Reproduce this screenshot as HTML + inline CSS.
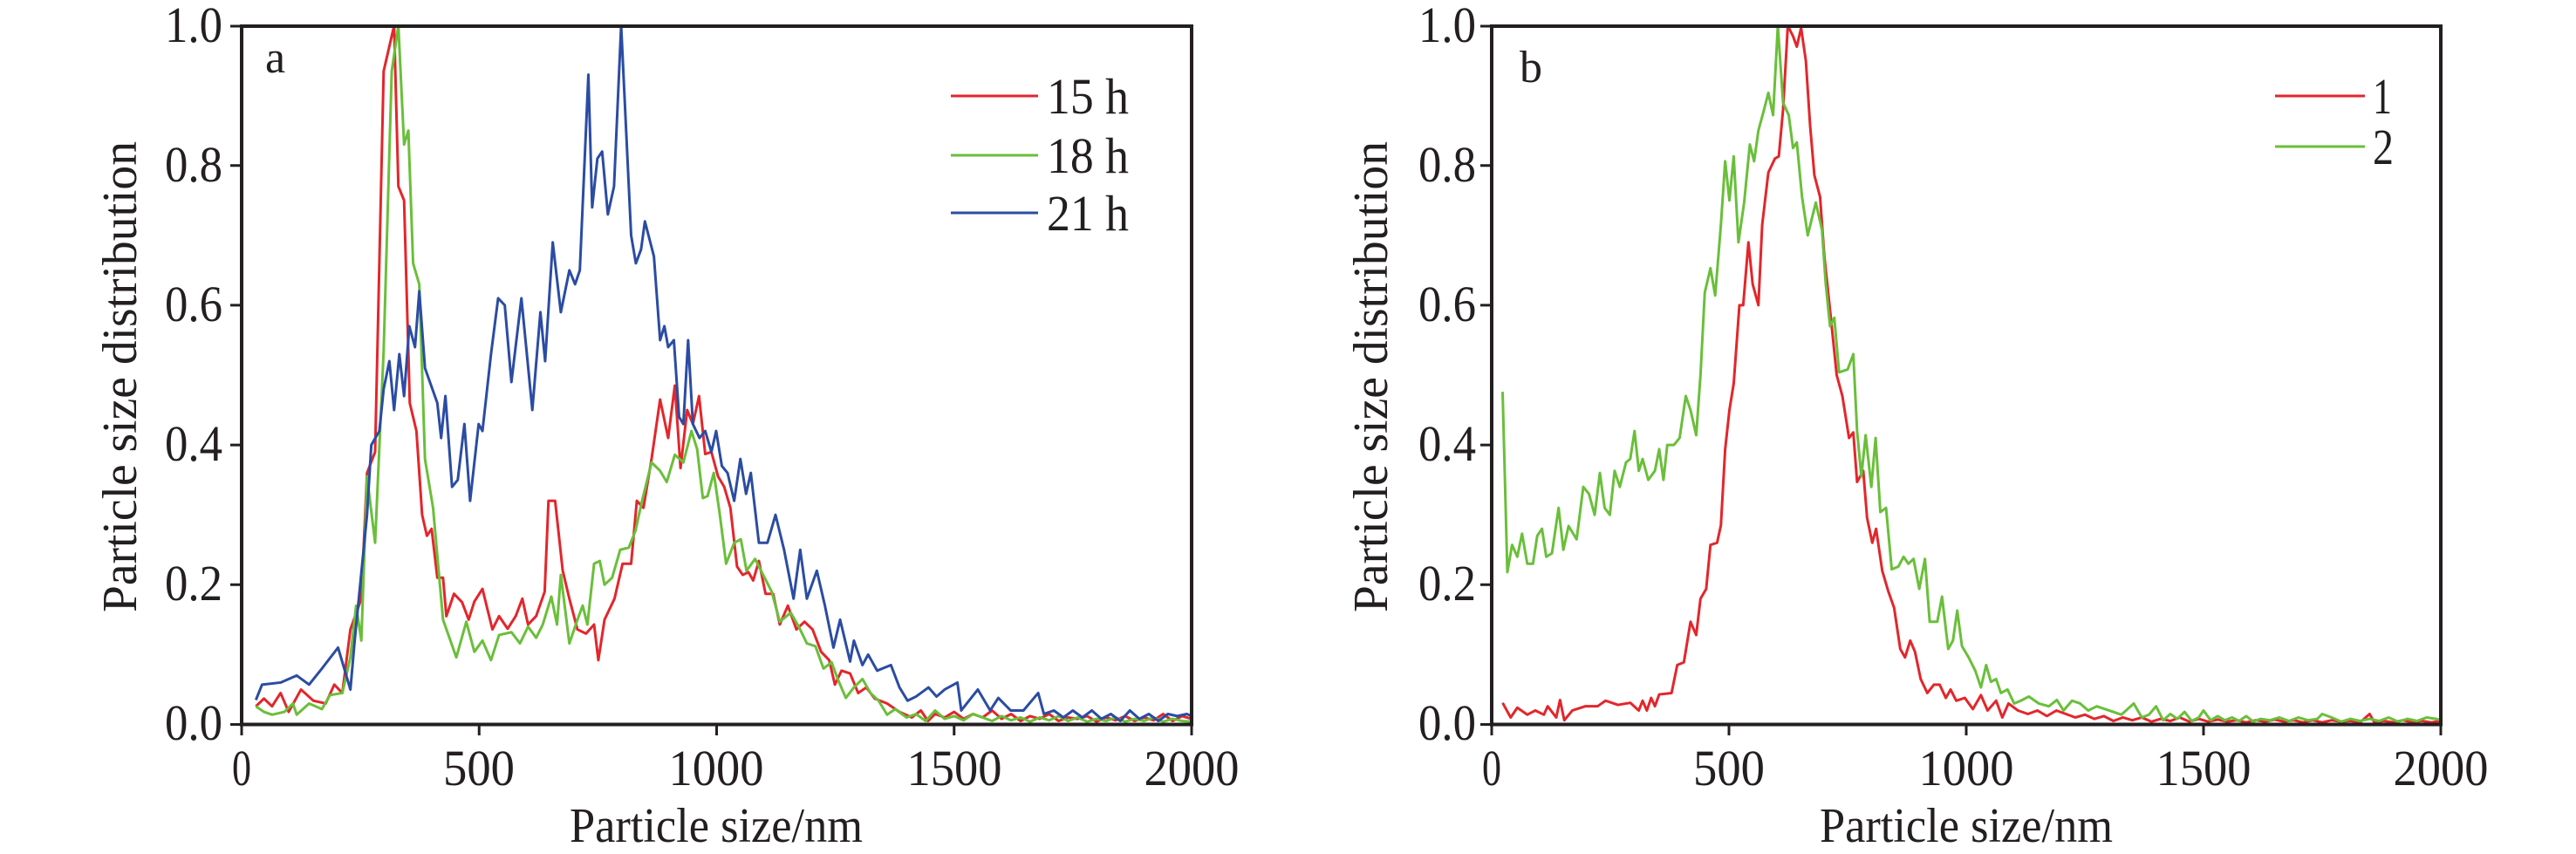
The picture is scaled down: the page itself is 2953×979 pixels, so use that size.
<!DOCTYPE html>
<html><head><meta charset="utf-8"><style>html,body{margin:0;padding:0;background:#fff}svg{display:block}text{font-family:"Liberation Serif",serif;fill:#231f20}</style></head>
<body>
<svg width="2953" height="979" viewBox="0 0 2953 979" xmlns="http://www.w3.org/2000/svg">
<!-- Panel a -->
<g transform="translate(277,830.5) scale(0.5445,-801)" fill="none" stroke-width="3" stroke-linejoin="round">
<polyline vector-effect="non-scaling-stroke" stroke="#e3262b" points="30,.026 47,.037 64,.026 82,.045 99,.018 125,.05 151,.034 177,.03 195,.057 212,.045 229,.136 252,.18 264,.36 281,.39 299,.935 321,1 330,.77 342,.75 354,.46 368,.42 380,.3 390,.27 400,.28 412,.21 424,.21 431,.155 447,.187 464,.175 478,.15 490,.176 507,.194 528,.136 542,.155 560,.137 577,.155 591,.18 603,.143 620,.155 638,.19 646,.32 660,.32 676,.22 690,.18 707,.136 725,.13 742,.143 751,.092 764,.15 785,.18 802,.23 820,.23 832,.32 846,.31 863,.38 881,.465 898,.41 912,.485 924,.367 938,.45 950,.43 963,.47 976,.387 989,.39 1003,.355 1016,.34 1029,.31 1043,.226 1055,.214 1067,.218 1077,.206 1089,.234 1103,.187 1119,.187 1133,.143 1150,.17 1168,.136 1185,.147 1202,.136 1220,.104 1237,.092 1249,.057 1263,.077 1281,.073 1298,.045 1315,.053 1333,.037 1359,.03 1385,.018 1411,.01 1430,.02 1445,.005 1460,.015 1480,.01 1500,.018 1520,.008 1540,.015 1560,.01 1580,.02 1600,.008 1620,.015 1640,.005 1660,.012 1680,.008 1700,.015 1720,.005 1740,.01 1760,.008 1780,.012 1800,.004 1820,.01 1840,.006 1860,.012 1880,.005 1900,.01 1920,.006 1940,.015 1960,.005 1980,.012 2000,.008"/>
<polyline vector-effect="non-scaling-stroke" stroke="#6abf3a" points="30,.026 47,.018 64,.014 90,.018 108,.03 116,.014 142,.03 169,.022 186,.042 212,.045 229,.096 241,.17 252,.12 264,.355 281,.26 299,.535 316,.935 330,1 342,.83 351,.85 361,.66 374,.63 386,.38 403,.31 424,.15 452,.096 473,.147 490,.104 507,.12 525,.092 542,.128 568,.132 586,.116 603,.14 620,.124 634,.143 652,.183 664,.143 672,.214 690,.116 707,.15 718,.17 728,.143 742,.23 754,.234 764,.2 780,.21 797,.25 815,.253 829,.277 843,.32 863,.375 881,.363 895,.347 912,.386 930,.375 947,.42 959,.394 971,.324 981,.327 994,.36 1006,.304 1020,.23 1037,.26 1051,.265 1063,.22 1081,.237 1098,.214 1116,.19 1133,.147 1156,.16 1173,.14 1190,.116 1208,.112 1225,.08 1242,.089 1255,.065 1272,.038 1289,.053 1307,.065 1324,.045 1341,.034 1359,.014 1376,.022 1400,.01 1420,.015 1440,.005 1460,.02 1480,.008 1500,.012 1520,.006 1540,.015 1560,.01 1580,.005 1600,.012 1620,.006 1640,.01 1660,.004 1680,.01 1700,.006 1720,.012 1740,.005 1760,.01 1780,.004 1800,.008 1820,.005 1840,.01 1860,.004 1880,.008 1900,.005 1920,.01 1940,.004 1960,.008 1980,.005 2000,.004"/>
<polyline vector-effect="non-scaling-stroke" stroke="#2b4ca3" points="30,.035 43,.057 82,.06 116,.07 142,.057 169,.08 203,.11 229,.05 238,.12 264,.3 273,.4 290,.42 299,.48 311,.52 321,.45 332,.53 342,.47 353,.57 365,.54 374,.62 386,.51 412,.46 420,.41 429,.47 443,.34 455,.35 469,.43 481,.32 499,.43 507,.42 525,.53 540,.61 554,.6 568,.49 589,.61 612,.45 629,.59 639,.52 655,.69 672,.59 690,.65 702,.63 712,.65 730,.93 738,.74 749,.81 759,.82 771,.73 784,.77 799,1 820,.7 830,.66 841,.68 849,.72 868,.67 881,.55 890,.57 898,.54 910,.55 921,.44 930,.43 940,.55 950,.43 964,.41 976,.42 989,.39 999,.42 1011,.37 1023,.36 1037,.32 1050,.38 1062,.33 1072,.36 1089,.26 1107,.26 1124,.3 1142,.25 1162,.18 1176,.25 1190,.18 1211,.22 1228,.17 1246,.11 1260,.15 1281,.09 1289,.12 1307,.085 1319,.1 1338,.077 1367,.085 1385,.053 1402,.034 1420,.04 1446,.053 1463,.04 1480,.05 1507,.06 1515,.02 1550,.05 1576,.02 1593,.038 1619,.02 1646,.02 1677,.045 1689,.015 1710,.02 1730,.01 1750,.02 1770,.01 1790,.02 1810,.008 1830,.015 1850,.005 1870,.02 1890,.008 1910,.015 1930,.005 1950,.015 1970,.012 1990,.015 2000,.012"/>
</g>
<!-- Panel b -->
<g transform="translate(1710,830.5) scale(0.544,-801)" fill="none" stroke-width="3" stroke-linejoin="round">
<polyline vector-effect="non-scaling-stroke" stroke="#e3262b" points="23,.031 40,.01 54,.024 75,.014 92,.02 110,.014 118,.026 136,.01 144,.035 153,.006 170,.02 197,.026 223,.026 240,.034 266,.028 292,.031 310,.02 318,.034 327,.02 336,.038 344,.026 353,.043 379,.045 391,.085 405,.089 419,.147 431,.128 440,.18 452,.194 461,.257 475,.26 483,.285 492,.394 501,.45 510,.488 522,.6 530,.6 541,.69 550,.63 562,.6 570,.715 583,.79 597,.81 605,.813 614,.88 624,1 635,.985 643,.97 652,.997 662,.95 671,.857 680,.786 692,.755 701,.67 715,.58 727,.5 739,.47 753,.41 762,.418 770,.347 783,.363 791,.296 802,.26 810,.28 823,.22 836,.19 848,.167 861,.108 871,.096 882,.12 892,.104 904,.065 918,.045 932,.057 944,.057 957,.038 967,.05 979,.034 997,.038 1014,.022 1031,.042 1045,.02 1063,.034 1076,.01 1089,.03 1109,.02 1130,.015 1150,.02 1170,.012 1190,.02 1210,.015 1230,.01 1250,.014 1270,.008 1290,.012 1310,.005 1330,.01 1350,.006 1370,.01 1390,.004 1410,.008 1430,.005 1450,.01 1470,.004 1490,.008 1510,.004 1530,.007 1550,.004 1570,.006 1590,.003 1610,.006 1630,.004 1650,.007 1670,.004 1690,.006 1710,.003 1730,.006 1750,.003 1770,.006 1790,.004 1810,.005 1830,.003 1850,.015 1860,.003 1880,.005 1900,.003 1920,.006 1940,.003 1960,.005 1980,.003 2000,.005"/>
<polyline vector-effect="non-scaling-stroke" stroke="#6abf3a" points="23,.476 33,.218 43,.257 54,.24 64,.273 75,.23 87,.23 96,.27 106,.28 115,.24 127,.245 141,.31 151,.25 162,.284 179,.265 193,.34 205,.33 217,.3 228,.36 238,.31 249,.3 259,.363 270,.34 283,.375 292,.38 301,.42 310,.363 318,.38 330,.35 344,.363 353,.394 362,.35 370,.4 384,.4 396,.41 409,.47 419,.45 431,.414 440,.5 449,.618 461,.653 471,.614 483,.715 492,.806 501,.75 510,.813 520,.69 532,.747 544,.83 553,.806 562,.85 574,.88 583,.904 593,.872 603,1 614,.89 626,.872 635,.825 643,.833 654,.755 666,.7 683,.747 696,.708 704,.63 713,.57 722,.582 732,.504 750,.508 762,.53 770,.42 779,.355 788,.414 800,.34 809,.41 819,.304 831,.31 843,.222 857,.226 868,.24 878,.23 889,.237 901,.194 913,.237 923,.147 939,.147 949,.183 962,.108 972,.12 981,.163 991,.112 1005,.096 1019,.077 1031,.053 1042,.085 1052,.061 1063,.065 1073,.045 1087,.05 1101,.03 1115,.034 1132,.04 1153,.03 1174,.026 1191,.035 1205,.02 1223,.034 1240,.03 1257,.02 1275,.026 1301,.02 1327,.014 1353,.03 1370,.01 1385,.014 1400,.026 1415,.006 1430,.015 1445,.008 1460,.018 1475,.005 1490,.01 1500,.02 1515,.006 1530,.012 1545,.006 1560,.01 1575,.005 1590,.012 1605,.004 1620,.008 1640,.006 1660,.01 1680,.005 1700,.01 1720,.006 1740,.008 1750,.015 1770,.01 1790,.004 1810,.008 1830,.005 1850,.008 1870,.005 1890,.01 1910,.004 1930,.008 1950,.005 1970,.01 1990,.008 2000,.006"/>
</g>
<!-- Frames -->
<g fill="none" stroke="#231f20" stroke-width="4">
<rect x="277" y="30" width="1089" height="800.5"/>
<rect x="1710" y="30" width="1088" height="800.5"/>
</g>
<g stroke="#231f20" stroke-width="3">
<path d="M277,830V843M549.25,830V843M821.5,830V843M1093.75,830V843M1366,830V843"/>
<path d="M277,830.5H264M277,670.3H264M277,510.1H264M277,349.9H264M277,189.7H264M277,30H264"/>
<path d="M1710,830V843M1982,830V843M2254,830V843M2526,830V843M2798,830V843"/>
<path d="M1710,830.5H1697M1710,670.3H1697M1710,510.1H1697M1710,349.9H1697M1710,189.7H1697M1710,30H1697"/>
</g>
<g font-size="58" text-anchor="end">
<text x="255" y="848" textLength="66" lengthAdjust="spacingAndGlyphs">0.0</text>
<text x="255" y="688" textLength="66" lengthAdjust="spacingAndGlyphs">0.2</text>
<text x="255" y="528" textLength="66" lengthAdjust="spacingAndGlyphs">0.4</text>
<text x="255" y="368" textLength="66" lengthAdjust="spacingAndGlyphs">0.6</text>
<text x="255" y="208" textLength="66" lengthAdjust="spacingAndGlyphs">0.8</text>
<text x="255" y="48" textLength="66" lengthAdjust="spacingAndGlyphs">1.0</text>
<text x="1692" y="848" textLength="66" lengthAdjust="spacingAndGlyphs">0.0</text>
<text x="1692" y="688" textLength="66" lengthAdjust="spacingAndGlyphs">0.2</text>
<text x="1692" y="528" textLength="66" lengthAdjust="spacingAndGlyphs">0.4</text>
<text x="1692" y="368" textLength="66" lengthAdjust="spacingAndGlyphs">0.6</text>
<text x="1692" y="208" textLength="66" lengthAdjust="spacingAndGlyphs">0.8</text>
<text x="1692" y="48" textLength="66" lengthAdjust="spacingAndGlyphs">1.0</text>
</g>
<g font-size="58" text-anchor="middle">
<text x="277" y="900" textLength="22" lengthAdjust="spacingAndGlyphs">0</text>
<text x="549" y="900" textLength="82" lengthAdjust="spacingAndGlyphs">500</text>
<text x="821" y="900" textLength="109" lengthAdjust="spacingAndGlyphs">1000</text>
<text x="1094" y="900" textLength="109" lengthAdjust="spacingAndGlyphs">1500</text>
<text x="1366" y="900" textLength="109" lengthAdjust="spacingAndGlyphs">2000</text>
<text x="1710" y="900" textLength="22" lengthAdjust="spacingAndGlyphs">0</text>
<text x="1982" y="900" textLength="82" lengthAdjust="spacingAndGlyphs">500</text>
<text x="2254" y="900" textLength="109" lengthAdjust="spacingAndGlyphs">1000</text>
<text x="2526" y="900" textLength="109" lengthAdjust="spacingAndGlyphs">1500</text>
<text x="2798" y="900" textLength="109" lengthAdjust="spacingAndGlyphs">2000</text>
</g>
<g font-size="56" text-anchor="middle">
<text x="821" y="965" textLength="336" lengthAdjust="spacingAndGlyphs">Particle size/nm</text>
<text x="2254" y="965" textLength="336" lengthAdjust="spacingAndGlyphs">Particle size/nm</text>
<text transform="translate(156,432) rotate(-90)" textLength="540" lengthAdjust="spacingAndGlyphs">Particle size distribution</text>
<text transform="translate(1590,432) rotate(-90)" textLength="540" lengthAdjust="spacingAndGlyphs">Particle size distribution</text>
</g>
<g font-size="52">
<text x="304" y="83">a</text>
<text x="1742" y="94">b</text>
</g>
<g stroke-width="3">
<line x1="1090" y1="110" x2="1190" y2="110" stroke="#e3262b"/>
<line x1="1090" y1="178" x2="1190" y2="178" stroke="#6abf3a"/>
<line x1="1090" y1="244" x2="1190" y2="244" stroke="#2b4ca3"/>
<line x1="2608" y1="110" x2="2711" y2="110" stroke="#e3262b"/>
<line x1="2608" y1="168" x2="2711" y2="168" stroke="#6abf3a"/>
</g>
<g font-size="58">
<text x="1200" y="130" textLength="94" lengthAdjust="spacingAndGlyphs">15 h</text>
<text x="1200" y="198" textLength="94" lengthAdjust="spacingAndGlyphs">18 h</text>
<text x="1200" y="264" textLength="94" lengthAdjust="spacingAndGlyphs">21 h</text>
<text x="2720" y="130" textLength="22" lengthAdjust="spacingAndGlyphs">1</text>
<text x="2720" y="188" textLength="24" lengthAdjust="spacingAndGlyphs">2</text>
</g>
</svg>
</body></html>
